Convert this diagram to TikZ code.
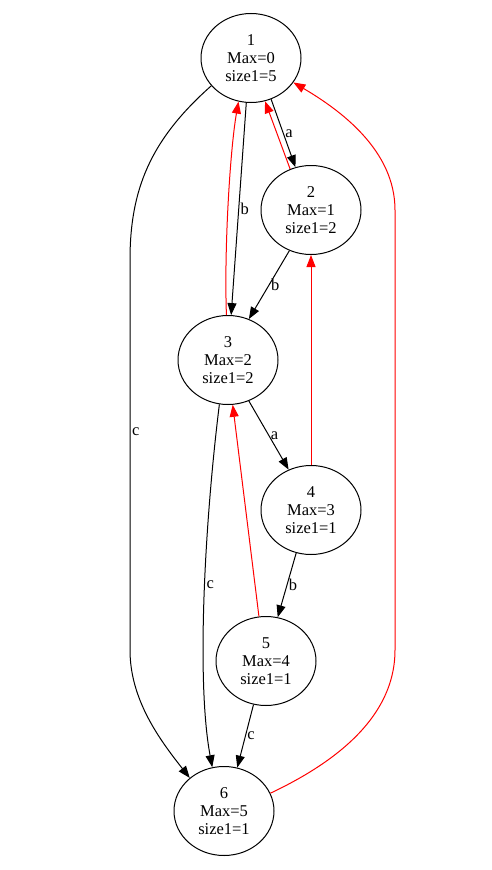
\documentclass[tikz,border=0pt]{standalone}
\usepackage{fontspec}
\setmainfont{Liberation Serif}
\usetikzlibrary{shapes.geometric,arrows.meta}
\begin{document}
\begin{tikzpicture}[x=1pt,y=-1pt,
  st/.style={ellipse,draw,line width=1pt,minimum width=100pt,minimum height=89pt,inner sep=0pt,align=center,font=\fontsize{16.5}{18}\selectfont},
  edge/.style={line width=1pt,-{Triangle[length=12pt,width=9pt]}},
  back/.style={edge,red},
  lbl/.style={font=\fontsize{16.5}{18}\selectfont,inner sep=1.5pt}]
\useasboundingbox (0,0) rectangle (492,870);
\node[st] (n1) at (251,58) {1\\Max=0\\size1=5};
\node[st] (n2) at (311,210) {2\\Max=1\\size1=2};
\node[st] (n3) at (228,360) {3\\Max=2\\size1=2};
\node[st] (n4) at (311,510) {4\\Max=3\\size1=1};
\node[st] (n5) at (266,661) {5\\Max=4\\size1=1};
\node[st] (n6) at (224,811) {6\\Max=5\\size1=1};
% black edges
\draw[edge] (n1.-64) -- node[lbl,right,pos=0.5] {a} (n2.110);
\draw[edge] (n1.-96) -- node[lbl,right,pos=0.5] {b} (n3.86);
\draw[edge] (n2.-118) -- node[lbl,right,pos=0.5] {b} (n3.63);
\draw[edge] (n3.-63) -- node[lbl,right,pos=0.5] {a} (n4.119);
\draw[edge] (n4.-109) -- node[lbl,right,pos=0.5] {b} (n5.75);
\draw[edge] (n5.-106) -- node[lbl,right,pos=0.5] {c} (n6.73);
\draw[edge] (n1.-145) .. controls (150,140) and (130,190) .. (130,260)
  -- node[lbl,right,pos=0.44] {c} (130,650) .. controls (130,700) and (160,740) .. (n6.136);
\draw[edge] (n3.-101) .. controls (205,520) and (196,680) .. node[lbl,right,pos=0.47] {c} (n6.105);
% red edges
\draw[back] (n2.117) -- (n1.-72);
\draw[back] (n3.92) .. controls (224,250) and (230,150) .. (n1.-106);
\draw[back] (n4.north) -- (n2.south);
\draw[back] (n5.99) -- (n3.-84);
\draw[back] (n6.21) .. controls (330,765) and (395,720) .. (395,650) -- (395,210)
  .. controls (395,150) and (340,110) .. (n1.-30);
\end{tikzpicture}
\end{document}
